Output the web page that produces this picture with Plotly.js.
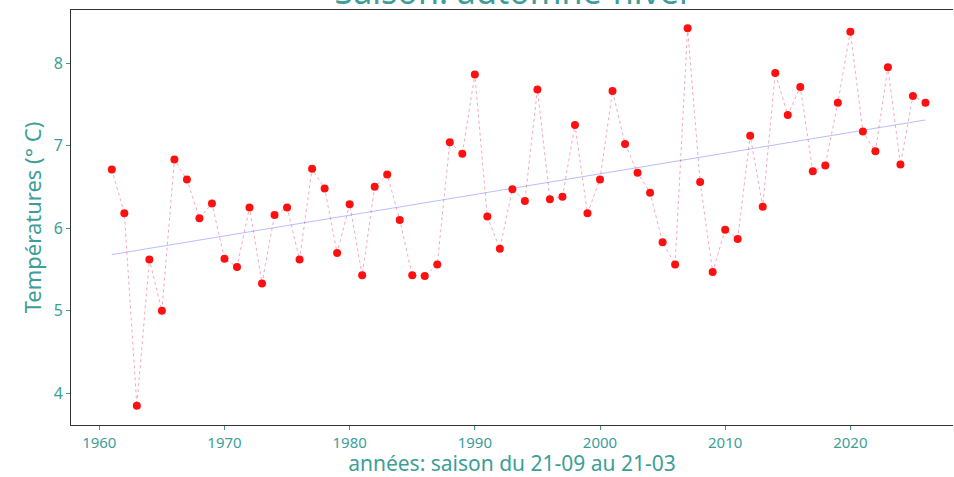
<!DOCTYPE html>
<html>
<head>
<meta charset="utf-8">
<script src="https://cdn.plot.ly/plotly-3.0.1.min.js"></script>
<style>
html,body{margin:0;padding:0;overflow:hidden;background:#fff;}
#chart{width:954px;height:477px;}
</style>
</head>
<body>
<div id="chart"></div>
<script>
const years = [1961,1962,1963,1964,1965,1966,1967,1968,1969,1970,
  1971,1972,1973,1974,1975,1976,1977,1978,1979,1980,
  1981,1982,1983,1984,1985,1986,1987,1988,1989,1990,
  1991,1992,1993,1994,1995,1996,1997,1998,1999,2000,
  2001,2002,2003,2004,2005,2006,2007,2008,2009,2010,
  2011,2012,2013,2014,2015,2016,2017,2018,2019,2020,
  2021,2022,2023,2024,2025,2026];
const temperatures = [6.71,6.18,3.85,5.62,5.00,6.83,6.59,6.12,6.30,5.63,
  5.53,6.25,5.33,6.16,6.25,5.62,6.72,6.48,5.70,6.29,
  5.43,6.50,6.65,6.10,5.43,5.42,5.56,7.04,6.90,7.86,
  6.14,5.75,6.47,6.33,7.68,6.35,6.38,7.25,6.18,6.59,
  7.66,7.02,6.67,6.43,5.83,5.56,8.42,6.56,5.47,5.98,
  5.87,7.12,6.26,7.88,7.37,7.71,6.69,6.76,7.52,8.38,
  7.17,6.93,7.95,6.77,7.60,7.52];
const trendYears = [1961, 2026];
const trendValues = [5.68, 7.31];
const xTicks = [1960,1970,1980,1990,2000,2010,2020];
const yTicks = [4,5,6,7,8];

const teal = '#3d9e98';
const fontFam = '"Noto Sans", "Open Sans", sans-serif';

const data = [
  {
    x: years, y: temperatures, type: 'scatter', mode: 'lines',
    line: {color: 'rgba(230,40,80,0.4)', width: 1, dash: 'dot'},
    hoverinfo: 'skip', showlegend: false
  },
  {
    x: trendYears, y: trendValues, type: 'scatter', mode: 'lines',
    line: {color: 'rgba(60,60,255,0.35)', width: 1},
    showlegend: false
  },
  {
    x: years, y: temperatures, type: 'scatter', mode: 'markers',
    marker: {color: '#ff1010', size: 8},
    showlegend: false
  }
];

const layout = {
  width: 954, height: 477,
  margin: {l: 71, r: 1, t: 10, b: 52},
  paper_bgcolor: '#fff', plot_bgcolor: '#fff',
  font: {family: fontFam, color: teal},
  title: {
    text: 'Saison: automne-hiver',
    font: {family: fontFam, size: 34, color: teal},
    x: 0.502, xanchor: 'center', xref: 'paper',
    y: 0.991, yanchor: 'bottom', yref: 'container'
  },
  xaxis: {
    range: [1957.74, 2028.2],
    tickvals: xTicks, ticktext: xTicks.map(String),
    ticks: 'outside', ticklen: 4, tickcolor: teal, tickwidth: 1,
    tickfont: {family: fontFam, size: 15, color: teal},
    showgrid: false, zeroline: false,
    showline: true, linecolor: '#333', linewidth: 1, mirror: true,
    title: {text: 'années: saison du 21-09 au 21-03', font: {family: fontFam, size: 21, color: teal}, standoff: 3}
  },
  yaxis: {
    range: [3.616, 8.642],
    tickvals: yTicks, ticktext: yTicks.map(String),
    ticks: 'outside', ticklen: 4, tickcolor: teal, tickwidth: 1,
    tickfont: {family: fontFam, size: 16, color: teal},
    showgrid: false, zeroline: false,
    showline: true, linecolor: '#333', linewidth: 1, mirror: false,
    title: {text: 'Températures (° C)', font: {family: fontFam, size: 22, color: teal}, standoff: 5}
  }
};

Plotly.newPlot('chart', data, layout, {displayModeBar: false, staticPlot: true});
</script>
</body>
</html>
